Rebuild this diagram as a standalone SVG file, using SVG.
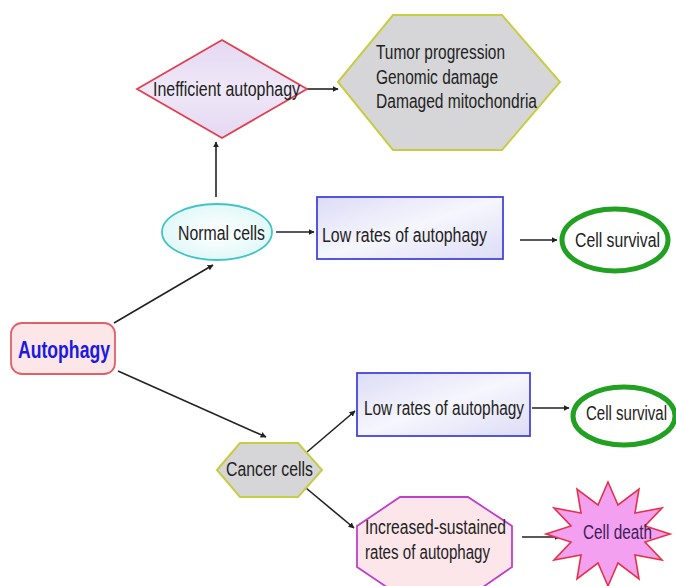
<svg xmlns="http://www.w3.org/2000/svg" width="676" height="586" viewBox="0 0 676 586">
<style>
text{font-family:"Liberation Sans",Arial,sans-serif;font-size:20px;fill:#222}
.arrow{stroke:#222;stroke-width:1.6;fill:none;marker-end:url(#ah)}
</style>
<defs>
<marker id="ah" viewBox="0 0 10 10" refX="9" refY="5" markerWidth="6" markerHeight="6" markerUnits="userSpaceOnUse" orient="auto"><path d="M0,0 L10,5 L0,10 z" fill="#222"/></marker>
<linearGradient id="lav" x1="0" y1="0" x2="1" y2="1"><stop offset="0" stop-color="#dcdcf6"/><stop offset="0.5" stop-color="#f6f6fd"/><stop offset="1" stop-color="#dcdcf6"/></linearGradient>
<linearGradient id="dia" x1="0" y1="0" x2="0" y2="1"><stop offset="0" stop-color="#e4d8f2"/><stop offset="0.5" stop-color="#efe8f8"/><stop offset="1" stop-color="#e4d8f2"/></linearGradient>
<radialGradient id="cy"><stop offset="0" stop-color="#ffffff"/><stop offset="1" stop-color="#e2f8f8"/></radialGradient>
</defs>
<rect width="676" height="586" fill="#ffffff"/>
<g id="connectors">
<line class="arrow" x1="307" y1="89" x2="338" y2="89"/>
<line class="arrow" x1="216" y1="197" x2="216" y2="142"/>
<line class="arrow" x1="276" y1="232" x2="314" y2="232"/>
<line class="arrow" x1="520" y1="240" x2="557" y2="240"/>
<line class="arrow" x1="114" y1="323" x2="213" y2="265"/>
<line class="arrow" x1="118" y1="371" x2="266" y2="437"/>
<line class="arrow" x1="307" y1="452" x2="355" y2="411"/>
<line class="arrow" x1="532" y1="408" x2="569" y2="408"/>
<line class="arrow" x1="306" y1="488" x2="354" y2="528"/>
<line class="arrow" x1="522" y1="537" x2="560" y2="537"/>
</g>
<g id="inefficient">
<polygon points="137,89 222,40 307,89 222,138" fill="url(#dia)" stroke="#e04050" stroke-width="1.8"/>
<text x="153" y="96" textLength="147" lengthAdjust="spacingAndGlyphs">Inefficient autophagy</text>
</g>
<g id="tumor">
<polygon points="338,82 393,15 502,15 560,82 502,150 393,150" fill="#d6d6d8" stroke="#c8cc44" stroke-width="2"/>
<text x="376" y="59" textLength="129" lengthAdjust="spacingAndGlyphs">Tumor progression</text>
<text x="376" y="83.5" textLength="122" lengthAdjust="spacingAndGlyphs">Genomic damage</text>
<text x="376" y="108" textLength="161" lengthAdjust="spacingAndGlyphs">Damaged mitochondria</text>
</g>
<g id="normal">
<ellipse cx="217" cy="232" rx="55" ry="28" fill="url(#cy)" stroke="#40c4c8" stroke-width="1.8"/>
<text x="178" y="240" textLength="87" lengthAdjust="spacingAndGlyphs">Normal cells</text>
</g>
<g id="lowtop">
<rect x="317" y="197" width="186" height="62" fill="url(#lav)" stroke="#4444dd" stroke-width="1.8"/>
<text x="322" y="242" textLength="165" lengthAdjust="spacingAndGlyphs">Low rates of autophagy</text>
</g>
<g id="survivaltop">
<ellipse cx="615" cy="240" rx="53" ry="31" fill="#ffffff" stroke="#22a022" stroke-width="5"/>
<text x="575" y="247" textLength="85" lengthAdjust="spacingAndGlyphs">Cell survival</text>
</g>
<g id="autophagy">
<rect x="11" y="323" width="104" height="51" rx="11" fill="#fde6e8" stroke="#e06068" stroke-width="1.8"/>
<text x="18" y="358" textLength="92" lengthAdjust="spacingAndGlyphs" style="font-weight:bold;font-size:24px;fill:#1a1ae0">Autophagy</text>
</g>
<g id="cancer">
<polygon points="217,470 240,443 298,443 322,470 298,497 240,497" fill="#d6d6d8" stroke="#c8cc44" stroke-width="2"/>
<text x="226" y="476" textLength="87" lengthAdjust="spacingAndGlyphs">Cancer cells</text>
</g>
<g id="lowbottom">
<rect x="357" y="373" width="173" height="63" fill="url(#lav)" stroke="#4444dd" stroke-width="1.8"/>
<text x="364" y="415" textLength="160" lengthAdjust="spacingAndGlyphs">Low rates of autophagy</text>
</g>
<g id="survivalbottom">
<ellipse cx="624" cy="416" rx="51" ry="29" fill="#ffffff" stroke="#22a022" stroke-width="5"/>
<text x="586" y="420" textLength="81" lengthAdjust="spacingAndGlyphs">Cell survival</text>
</g>
<g id="increased">
<polygon points="400,497 468,497 512,526 512,567 470,596 400,596 357,567 357,526" fill="#fde6ea" stroke="#c040c8" stroke-width="1.8"/>
<text x="365" y="534" textLength="141" lengthAdjust="spacingAndGlyphs">Increased-sustained</text>
<text x="365" y="559" textLength="125" lengthAdjust="spacingAndGlyphs">rates of autophagy</text>
</g>
<g id="death">
<polygon points="608,482 618,505 639,489 635,513 662,508 645,526 670,534 645,542 662,560 635,555 639,579 618,563 608,586 598,563 577,579 581,555 554,560 571,542 546,534 571,526 554,508 581,513 577,489 598,505" fill="#f4a0f0" stroke="#e8304a" stroke-width="1.6"/>
<text x="583" y="539" textLength="69" lengthAdjust="spacingAndGlyphs" style="fill:#3c2058">Cell death</text>
</g>
</svg>
